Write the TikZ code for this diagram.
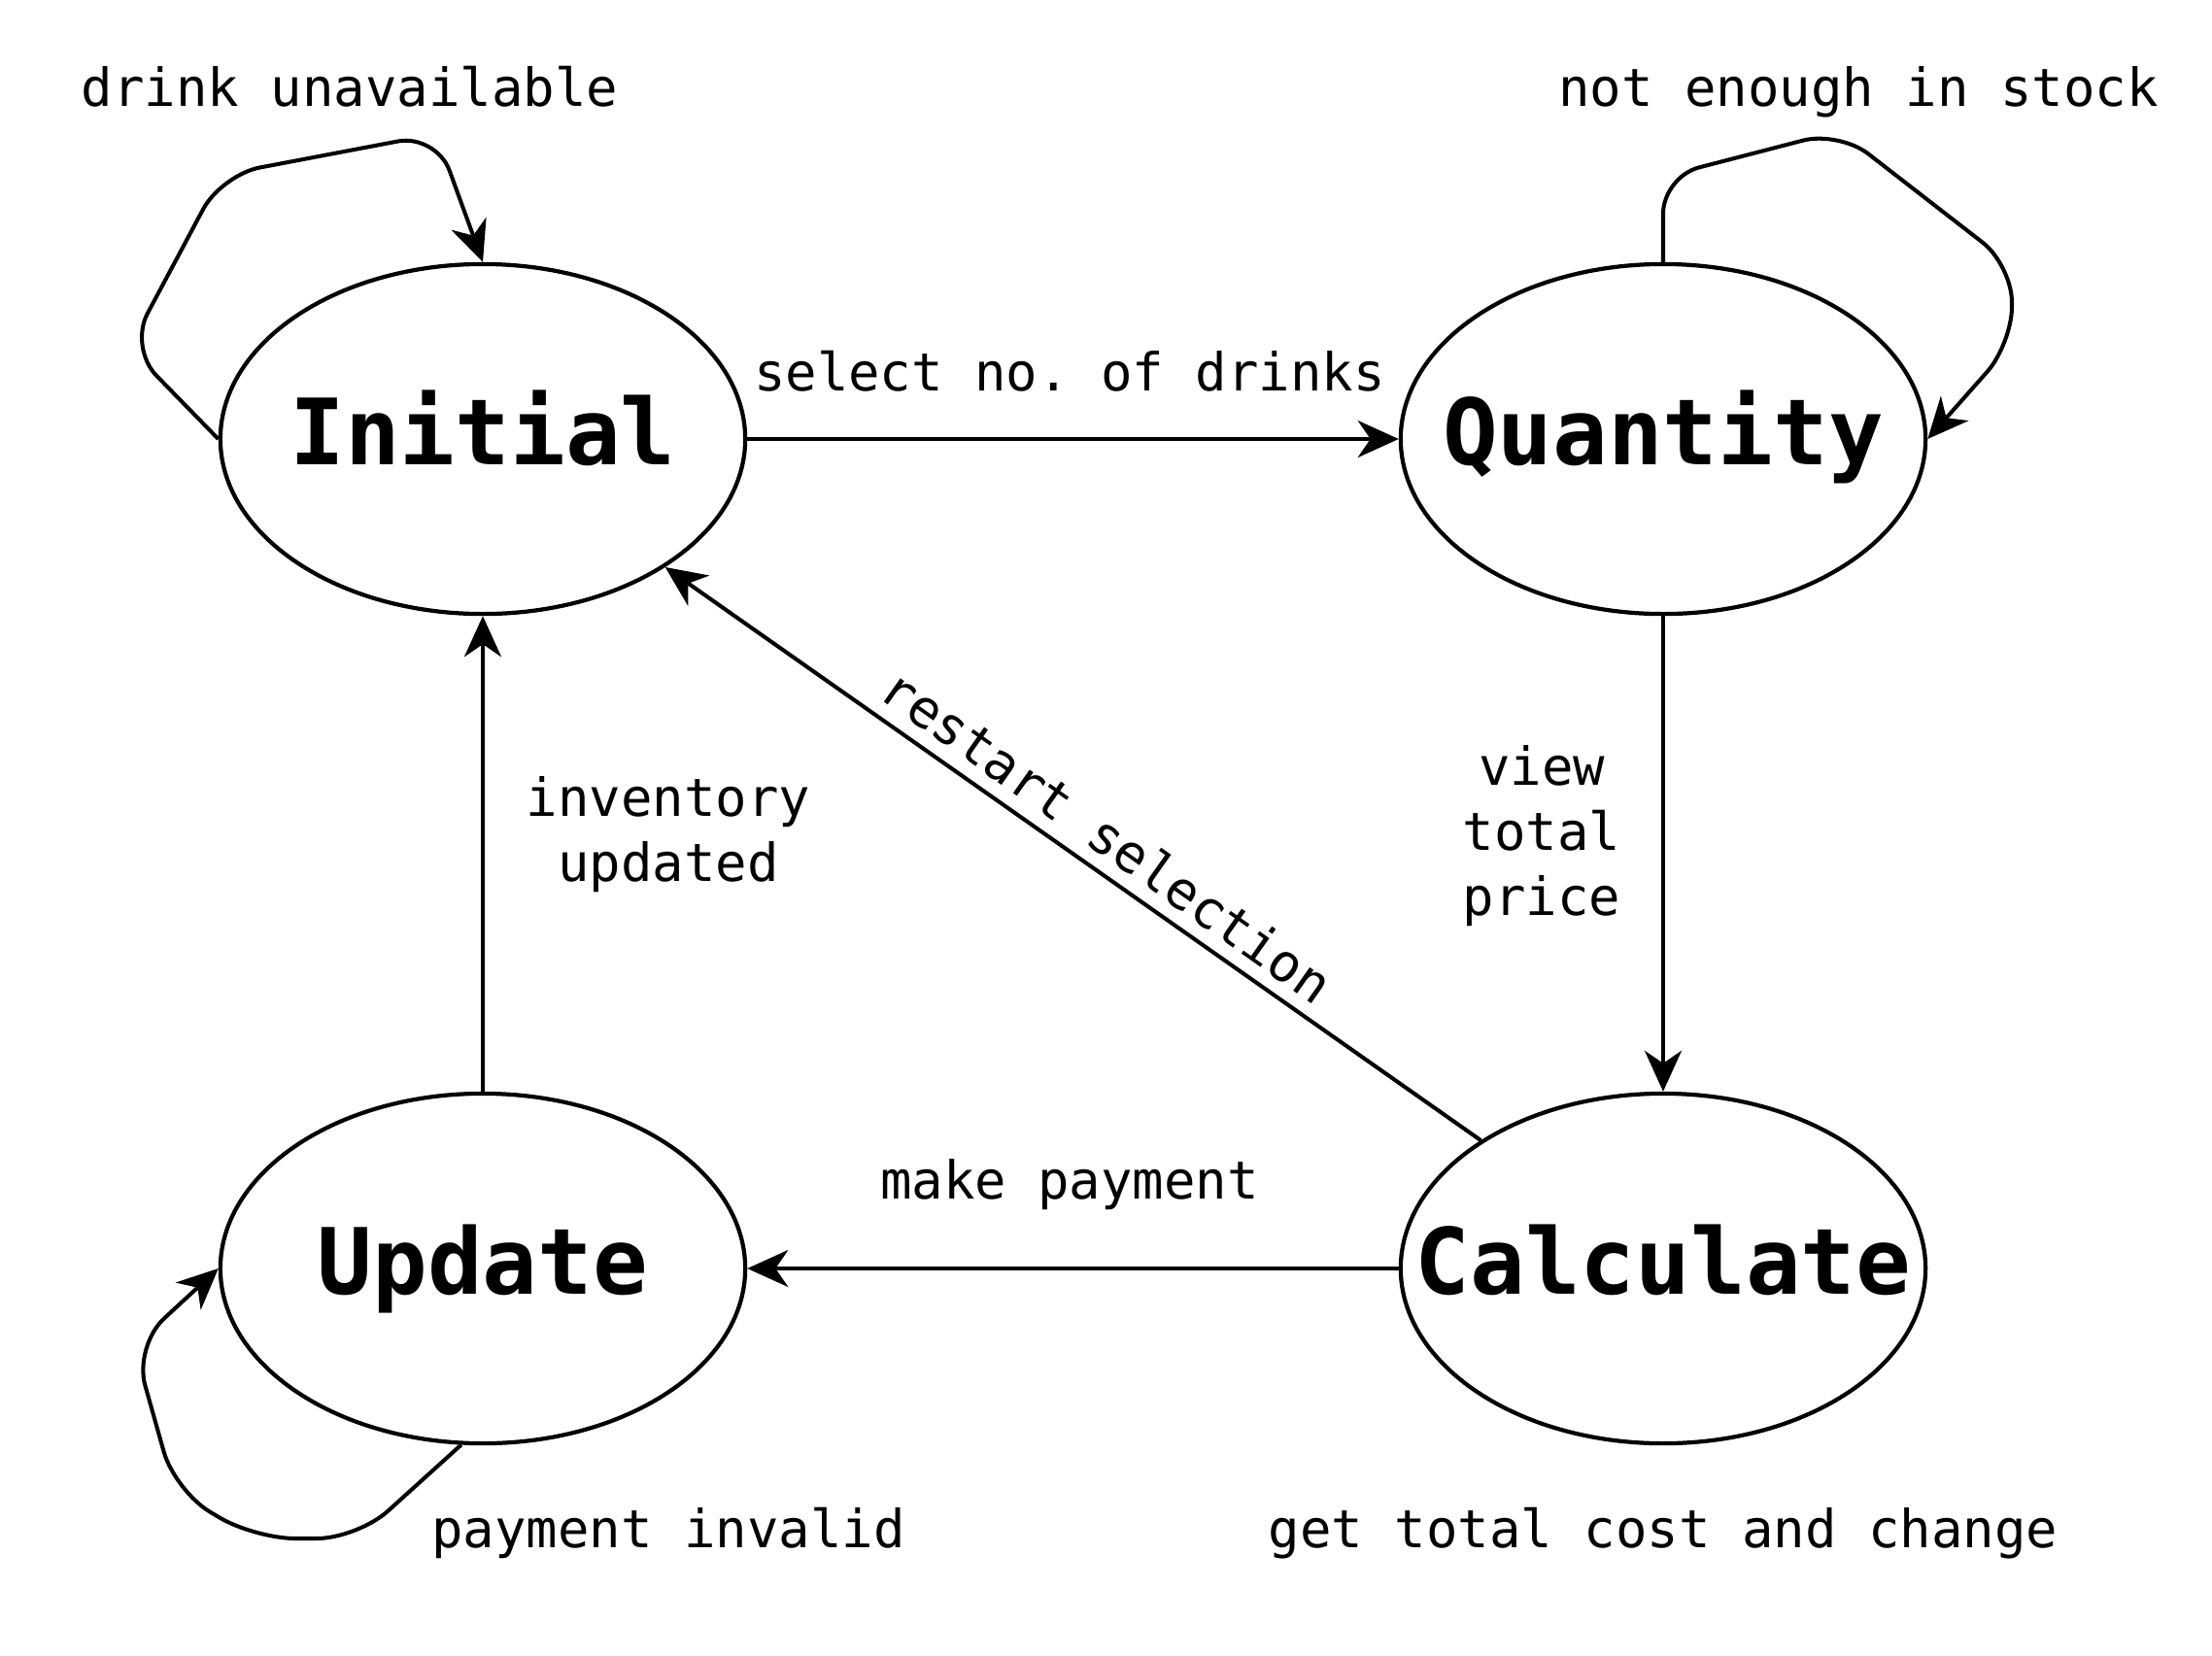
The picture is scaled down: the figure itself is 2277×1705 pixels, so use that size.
\documentclass[tikz,border=0pt]{standalone}
\usepackage{fontspec}
\setmonofont{DejaVu Sans Mono}
\usetikzlibrary{arrows.meta,shapes.geometric}
\tikzset{
  state/.style={draw, ellipse, line width=1.2pt, minimum width=5.4cm, minimum height=3.6cm, inner sep=0pt},
  statetext/.style={anchor=base, inner sep=0pt, font=\ttfamily\bfseries\fontsize{26.8pt}{32pt}\selectfont},
  lbl/.style={inner sep=0pt, font=\ttfamily\fontsize{15.35pt}{19.07pt}\selectfont},
  arr/.style={line width=1.15pt, -{Stealth[length=4.2mm, width=3.8mm, inset=1.3mm]}},
  loopline/.style={arr, rounded corners=0.4cm}
}
\begin{document}
\begin{tikzpicture}[x=0.01cm, y=-0.01cm]
\useasboundingbox (0,0) rectangle (2277,1705);
\fill[white] (0,0) rectangle (2277,1705);

% states
\node[state] (init) at (497,452) {};
\node[state] (quant) at (1712,452) {};
\node[state] (upd) at (497,1306) {};
\node[state] (calc) at (1712,1306) {};
\node[statetext] (tinit) at (497,478) {Initial};
\node[statetext] (tquant) at (1712,478) {Quantity};
\node[statetext] (tupd) at (497,1332) {Update};
\node[statetext] (tcalc) at (1712,1332) {Calculate};

% straight transitions
\draw[arr] (init) -- (quant);
\draw[arr] (quant) -- (calc);
\draw[arr] (calc) -- (upd);
\draw[arr] (upd) -- (init);
\draw[arr] (calc) -- (init);

% self loops
\draw[loopline] (init.west) -- (133,358) -- (228,180) -- (449,138) -- (init.north);
\draw[arr, rounded corners=0.38cm] (quant.north) -- (1712,182) -- (1893,135) -- (2071,273) -- (2071,354) -- (quant.east);
\draw[arr, rounded corners=0.42cm] (upd.263) -- (368,1584) -- (262,1584) -- (180,1535) -- (138,1386) -- (upd.west);

% labels
\node[lbl, anchor=base] (ldrink) at (360,109) {drink unavailable};
\node[lbl, anchor=base] (lstock) at (1913,109) {not enough in stock};
\node[lbl, anchor=base] (lselect) at (1101,402) {select no. of drinks};
\node[lbl, align=center] (linv) at (688,859) {inventory\\updated};
\node[lbl, align=center] (lview) at (1587,861) {view\\total\\price};
\node[lbl, rotate=-35.2] (lrestart) at (1140,860) {restart selection};
\node[lbl, anchor=base] (lpay) at (1101,1234) {make payment};
\node[lbl, anchor=base] (linvalid) at (688,1593) {payment invalid};
\node[lbl, anchor=base] (lcost) at (1712,1593) {get total cost and change};
\end{tikzpicture}
\end{document}
